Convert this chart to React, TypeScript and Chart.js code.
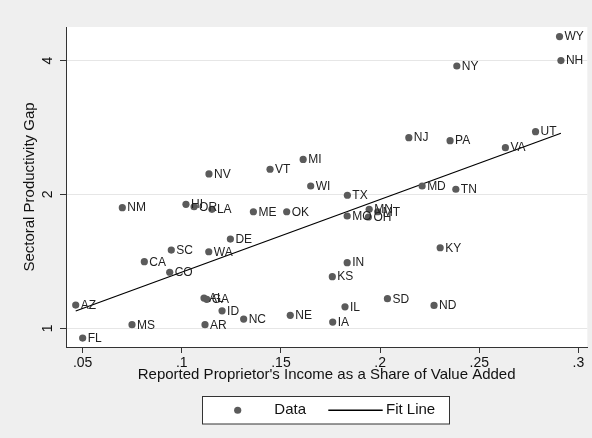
import { useEffect, useRef } from "react";
import { Chart, registerables } from "chart.js";

Chart.register(...registerables);

// ---------- data ----------
const stateLabels = [
  "WY", "NH", "NY", "NJ", "PA", "UT", "VA", "MI", "VT", "NV", "WI", "MD", "TN", "TX", "NM",
  "HI", "OR", "LA", "ME", "OK", "MN", "MT", "MO", "OH", "DE", "KY", "SC", "WA", "CA", "IN",
  "CO", "KS", "AL", "GA", "SD", "AZ", "ND", "IL", "ID", "NE", "NC", "IA", "MS", "AR", "FL",
];
const incomeShare = [
  0.2905, 0.2912, 0.2387, 0.2145, 0.2353, 0.2784, 0.2632, 0.1612, 0.1445, 0.1137, 0.165, 0.2212, 0.2382, 0.1835, 0.07,
  0.1021, 0.1062, 0.1152, 0.1361, 0.1529, 0.1945, 0.1988, 0.1834, 0.1941, 0.1245, 0.2303, 0.0947, 0.1136, 0.0811, 0.1834,
  0.0939, 0.1759, 0.1112, 0.1126, 0.2037, 0.0465, 0.2272, 0.1823, 0.1203, 0.1547, 0.1312, 0.1761, 0.0749, 0.1117, 0.05,
];
const productivityGap = [
  4.53, 4.0, 3.89, 2.684, 2.643, 2.769, 2.549, 2.398, 2.279, 2.224, 2.09, 2.09, 2.055, 1.992, 1.868,
  1.901, 1.877, 1.852, 1.829, 1.829, 1.852, 1.829, 1.789, 1.78, 1.588, 1.518, 1.5, 1.487, 1.412, 1.405,
  1.337, 1.307, 1.17, 1.162, 1.166, 1.128, 1.126, 1.118, 1.095, 1.07, 1.049, 1.033, 1.019, 1.019, 0.951,
];
const fitLineX = [0.0465, 0.2912];
const fitLineY = [1.094, 2.746];

const xTickValues = [0.05, 0.1, 0.15, 0.2, 0.25, 0.3];
const xTickLabels = [".05", ".1", ".15", ".2", ".25", ".3"];
const yTickValues = [1, 2, 4];
const yTickLabels = ["1", "2", "4"];

const xTitle = "Reported Proprietor's Income as a Share of Value Added";
const yTitle = "Sectoral Productivity Gap";
const seriesNames = ["Data", "Fit Line"];

const FONT = "'Liberation Sans', Arial, Helvetica, sans-serif";

export default function App() {
  const canvasRef = useRef<HTMLCanvasElement | null>(null);

  useEffect(() => {
    document.body.style.margin = "0";
    const canvas = canvasRef.current;
    if (!canvas) return;

    const decorPlugin = {
      id: "stataDecor",
      beforeDraw(chart: any) {
        const { ctx, chartArea } = chart;
        ctx.save();
        ctx.fillStyle = "#efefef";
        ctx.fillRect(0, 0, chart.width, chart.height);
        ctx.fillStyle = "#ffffff";
        ctx.fillRect(chartArea.left, chartArea.top, chartArea.right - chartArea.left, chartArea.bottom - chartArea.top);
        ctx.restore();
      },
      afterDatasetDraw(chart: any, args: any) {
        if (args.index !== 0) return;
        const { ctx } = chart;
        const meta = chart.getDatasetMeta(0);
        ctx.save();
        ctx.font = `12px ${FONT}`;
        ctx.fillStyle = "#222222";
        ctx.textBaseline = "middle";
        ctx.textAlign = "left";
        meta.data.forEach((pt: any, i: number) => {
          ctx.fillText(stateLabels[i], pt.x + 5, pt.y + 0.5);
        });
        ctx.restore();
      },
      afterDraw(chart: any) {
        const { ctx, chartArea } = chart;
        const yScale = chart.scales.y;
        ctx.save();
        ctx.fillStyle = "#111111";
        // y tick labels (rotated)
        ctx.font = `14px ${FONT}`;
        ctx.textAlign = "center";
        ctx.textBaseline = "middle";
        yTickValues.forEach((v, i) => {
          const py = yScale.getPixelForValue(v);
          ctx.save();
          ctx.translate(48, py);
          ctx.rotate(-Math.PI / 2);
          ctx.fillText(yTickLabels[i], 0, 0);
          ctx.restore();
        });
        // y title
        ctx.font = `15px ${FONT}`;
        ctx.save();
        ctx.translate(30, (chartArea.top + chartArea.bottom) / 2);
        ctx.rotate(-Math.PI / 2);
        ctx.fillText(yTitle, 0, 0);
        ctx.restore();
        // x title
        ctx.fillText(xTitle, (chartArea.left + chartArea.right) / 2, 375);

        // legend
        const ds = chart.data.datasets;
        const bx = 202.5, by = 396.5, bw = 247, bh = 27.5;
        ctx.fillStyle = "#ffffff";
        ctx.fillRect(bx, by, bw, bh);
        ctx.strokeStyle = "#333333";
        ctx.lineWidth = 1;
        ctx.strokeRect(bx, by, bw, bh);
        const ly = by + bh / 2;
        ctx.fillStyle = ds[0].backgroundColor;
        ctx.beginPath();
        ctx.arc(237.7, ly, 3.6, 0, Math.PI * 2);
        ctx.fill();
        ctx.fillStyle = "#111111";
        ctx.font = `15px ${FONT}`;
        ctx.textAlign = "left";
        ctx.fillText(ds[0].label, 274.3, ly);
        ctx.strokeStyle = ds[1].borderColor;
        ctx.lineWidth = ds[1].borderWidth;
        ctx.beginPath();
        ctx.moveTo(328.3, ly);
        ctx.lineTo(382.7, ly);
        ctx.stroke();
        ctx.fillText(ds[1].label, 386, ly);
        ctx.restore();
      },
    };

    const chart = new Chart(canvas, {
      type: "scatter",
      data: {
        datasets: [
          {
            label: seriesNames[0],
            data: incomeShare.map((x, i) => ({ x, y: productivityGap[i] })),
            backgroundColor: "#5b5b5b",
            borderWidth: 0,
            pointRadius: 3.6,
            pointHoverRadius: 3.6,
          },
          {
            type: "line",
            label: seriesNames[1],
            data: fitLineX.map((x, i) => ({ x, y: fitLineY[i] })),
            borderColor: "#000000",
            borderWidth: 1.3,
            pointRadius: 0,
            showLine: true,
            fill: false,
          } as any,
        ],
      },
      options: {
        animation: false,
        responsive: false,
        devicePixelRatio: 1,
        layout: { padding: { left: 0, top: 27, right: 4.7, bottom: 0 } },
        plugins: { legend: { display: false }, tooltip: { enabled: false } },
        events: [],
        scales: {
          x: {
            type: "linear",
            min: 0.0416,
            max: 0.3045,
            afterBuildTicks: (scale: any) => {
              scale.ticks = xTickValues.map((v) => ({ value: v }));
            },
            afterFit: (scale: any) => {
              scale.height = 91;
            },
            ticks: {
              autoSkip: false,
              maxRotation: 0,
              minRotation: 0,
              padding: 2,
              color: "#111111",
              font: { family: FONT, size: 14 },
              callback: (value: any) => {
                const idx = xTickValues.findIndex((t) => Math.abs(t - Number(value)) < 1e-9);
                return idx >= 0 ? xTickLabels[idx] : "";
              },
            },
            grid: { drawOnChartArea: false, drawTicks: true, tickLength: 6, tickColor: "#333333", tickWidth: 1 },
            border: { display: true, color: "#333333", width: 1 },
          },
          y: {
            type: "logarithmic",
            min: 0.908,
            max: 4.76,
            afterBuildTicks: (scale: any) => {
              scale.ticks = yTickValues.map((v) => ({ value: v }));
            },
            afterFit: (scale: any) => {
              scale.width = 66;
            },
            ticks: { display: false },
            grid: { color: "#e6e6e6", lineWidth: 1, drawTicks: true, tickLength: 6, tickColor: "#333333", tickWidth: 1 },
            border: { display: true, color: "#333333", width: 1 },
          },
        },
      },
      plugins: [decorPlugin],
    });

    return () => chart.destroy();
  }, []);

  return (
    <div style={{ width: 592, height: 438 }}>
      <canvas ref={canvasRef} width={592} height={438} />
    </div>
  );
}
